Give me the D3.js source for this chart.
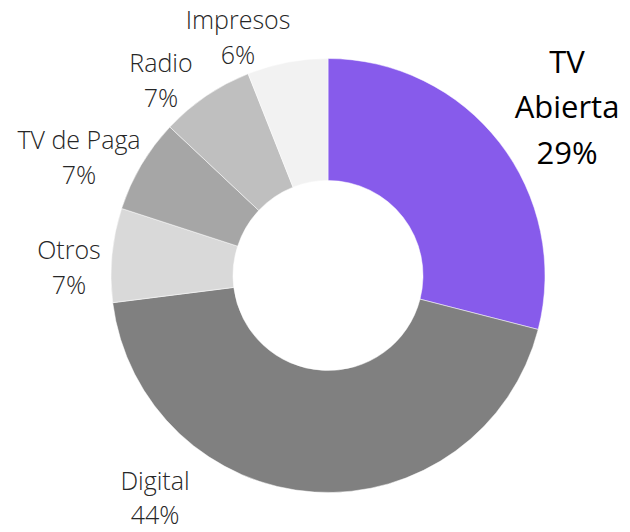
<!DOCTYPE html>
<html>
<head>
<meta charset="utf-8">
<script src="https://cdn.jsdelivr.net/npm/d3@7"></script>
<style>
  html, body { margin: 0; padding: 0; background: #fff; }
  svg { display: block; }
  text { font-family: "Open Sans", "Liberation Sans", sans-serif; }
</style>
</head>
<body>
<svg id="chart" width="630" height="532"></svg>
<script>
// data, clockwise from 12 o'clock
var categories = ["TV Abierta", "Digital", "Otros", "TV de Paga", "Radio", "Impresos"];
var shares = [29, 44, 7, 7, 7, 6];
var colors = ["#875BEB", "#808080", "#D9D9D9", "#A6A6A6", "#BFBFBF", "#F2F2F2"];

var labelAnchor = [[567, 62], [155, 481], [69, 250], [79, 140], [161, 63], [238, 20]];

var width = 630, height = 532;
var cx = 328, cy = 275.5, outerR = 217, innerR = 95;

var svg = d3.select('#chart');
var g = svg.append('g').attr('transform', 'translate(' + cx + ',' + cy + ')');

var slices = categories.map(function(c, i) { return {name: c, value: shares[i], color: colors[i]}; });

var pie = d3.pie()
    .sort(null)
    .value(function(d) { return d.value; });

var arc = d3.arc()
    .innerRadius(innerR)
    .outerRadius(outerR);

g.selectAll('path.slice')
    .data(pie(slices))
  .enter().append('path')
    .attr('class', 'slice')
    .attr('d', arc)
    .attr('fill', function(d) { return d.data.color; })
    .attr('stroke', '#fff')
    .attr('stroke-width', 0.5);

var labels = svg.selectAll('text.label')
    .data(slices)
  .enter().append('text')
    .attr('class', 'label')
    .attr('text-anchor', 'middle')
    .attr('fill', function(d, i) { return i === 0 ? '#000' : '#262626'; })
    .attr('font-weight', function(d, i) { return i === 0 ? 400 : 300; })
    .attr('font-size', function(d, i) { return i === 0 ? '31px' : '25px'; })
    .attr('transform', function(d, i) { return 'translate(' + labelAnchor[i][0] + ',' + labelAnchor[i][1] + ')'; });

labels.selectAll('tspan')
    .data(function(d, i) {
        var lines = i === 0 ? ['TV', 'Abierta'] : [d.name];
        lines.push(d.value + '%');
        var lh = i === 0 ? 45.5 : (i === 1 ? 34 : 35);
        return lines.map(function(l, k) { return {line: l, y: k * lh}; });
    })
  .enter().append('tspan')
    .attr('x', 0)
    .attr('y', function(s) { return s.y; })
    .attr('dy', '0.35em')
    .text(function(s) { return s.line; });
</script>
</body>
</html>
